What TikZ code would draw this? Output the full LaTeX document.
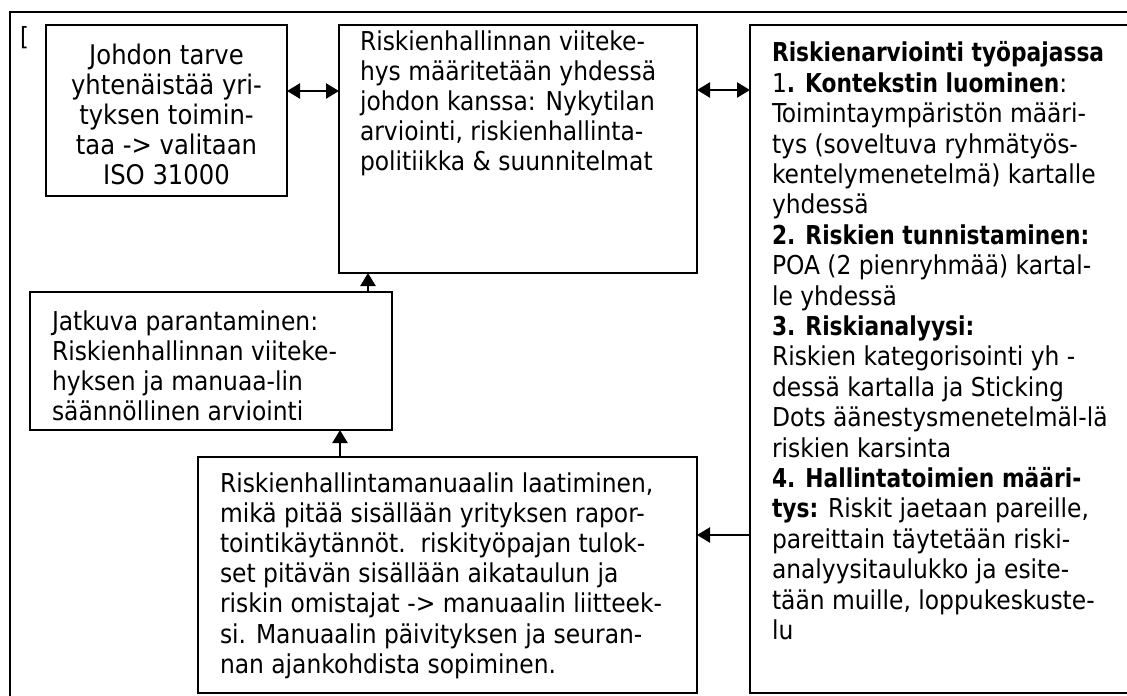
\documentclass[tikz,border=0pt]{standalone}
\usepackage{fontspec}
\setmainfont{DejaVu Sans Condensed}[BoldFont={DejaVu Sans Condensed Bold},
  BoldFeatures={FakeStretch=0.93}]
\usetikzlibrary{arrows.meta}
\begin{document}
\begin{tikzpicture}[x=1pt,y=-1pt,
  >={Triangle[length=13pt,width=15pt]},
  panel/.style={draw=black, line width=1.9pt, inner sep=0pt, outer sep=0pt, anchor=north west},
  frame/.style={draw=black, line width=2.8pt, inner sep=0pt, outer sep=0pt, anchor=north west},
  body/.style={inner sep=0pt, outer sep=0pt, align=left, anchor=north west,
    font=\fontsize{26}{30.2}\selectfont},
  conn/.style={draw=black, line width=2.3pt}]
\useasboundingbox (0,0) rectangle (1127,696);
\fill[white] (0,0) rectangle (1127,696);
\clip (0,0) rectangle (1127,696);

% outer page frame
\node[frame, minimum width=1200pt, minimum height=720pt] (outer) at (10,12) {};
\node[inner sep=0pt, anchor=base west] (brk) at (20,45)
  {\fontsize{25}{29}\selectfont\symbol{91}};

% boxes
\node[panel, minimum width=241pt, minimum height=171pt] (b1) at (46,25) {};
\node[panel, minimum width=358pt, minimum height=248pt] (b2) at (339,25) {};
\node[panel, minimum width=420pt, minimum height=668pt] (b3) at (750,25) {};
\node[panel, minimum width=362pt, minimum height=138pt] (b4) at (30,292) {};
\node[panel, minimum width=499pt, minimum height=236pt] (b5) at (198,457) {};

% texts
\node[body, align=center, anchor=north, font=\fontsize{27}{29.8}\selectfont] (t1) at (166.5,44.1)
{\strut Johdon tarve\\yhtenäistää yri-\\tyksen toimin-\\taa -> valitaan\\ISO 31000};

\node[body] (t2) at (360,28.9) {\strut Riskienhallinnan viiteke-\\
hys määritetään yhdessä\\johdon kanssa: Nykytilan\\arviointi, riskienhallinta-\\
politiikka \& suunnitelmat};

\node[body, font=\fontsize{26}{30.4}\selectfont] (t3) at (772,40.7) {\strut\textbf{Riskienarviointi työpajassa}\\
1\textbf{. Kontekstin luominen}:\\
Toimintaympäristön määri-\\
tys (soveltuva ryhmätyös-\\
kentelymenetelmä) kartalle\\
yhdessä\\
\textbf{2. Riskien tunnistaminen:}\\
POA (2 pienryhmää) kartal-\\
le yhdessä\\
\textbf{3. Riskianalyysi:}\\
Riskien kategorisointi yh -\\
dessä kartalla ja Sticking\\
Dots äänestysmenetelmäl-lä\\
riskien karsinta\\
\textbf{4. Hallintatoimien määri-}\\
\textbf{tys:} Riskit jaetaan pareille,\\
pareittain täytetään riski-\\
analyysitaulukko ja esite-\\
tään muille, loppukeskuste-\\
lu};

\node[body] (t4) at (52,308.9) {\strut Jatkuva parantaminen:\\
Riskienhallinnan viiteke-\\hyksen ja manuaa-lin\\säännöllinen arviointi};

\node[body] (t5) at (220,470.9) {\strut Riskienhallintamanuaalin laatiminen,\\
mikä pitää sisällään yrityksen rapor-\\
tointikäytännöt.\ \ riskityöpajan tulok-\\
set pitävän sisällään aikataulun ja\\
riskin omistajat -> manuaalin liitteek-\\
si. Manuaalin päivityksen ja seuran-\\
nan ajankohdista sopiminen.};

% connectors
\draw[conn, <->] (b1.east |- 0,91) -- (b2.west |- 0,91);
\draw[conn, <->] (b2.east |- 0,90) -- (b3.west |- 0,90);
\draw[conn, ->] (b4.north -| 368,0) -- (b2.south -| 368,0);
\draw[conn, ->] (b5.north -| 340,0) -- (b4.south -| 340,0);
\draw[conn, ->] (b3.west |- 0,535) -- (b5.east |- 0,535);
\end{tikzpicture}
\end{document}
